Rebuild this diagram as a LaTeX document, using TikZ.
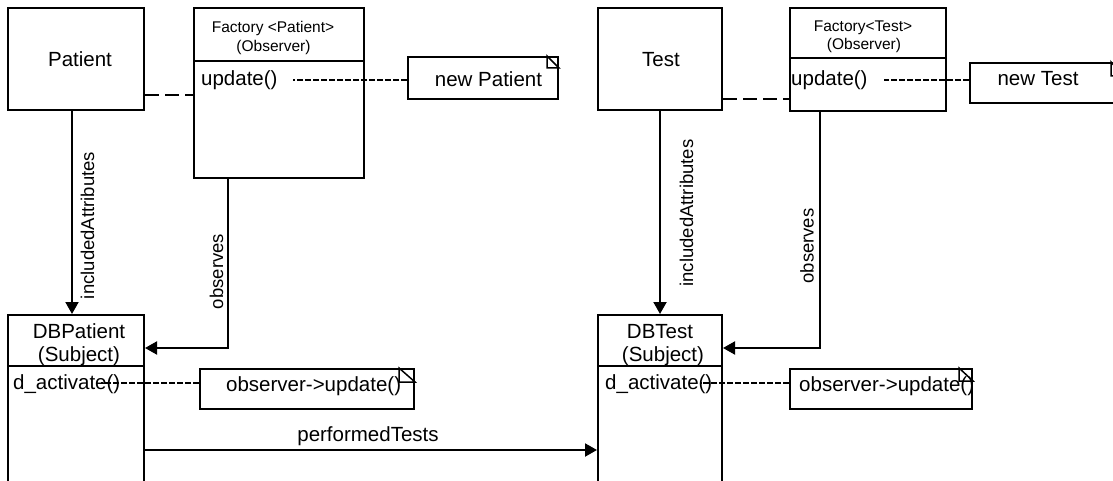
\documentclass[tikz,border=0pt]{standalone}
\usepackage{fontspec}
\setmainfont{Liberation Sans}
\usetikzlibrary{arrows.meta,calc}
\newcommand\notefold[3]{\draw[foldline] ([xshift=-#2pt]#1.north east) -- ([xshift=-#2pt,yshift=-#3pt]#1.north east) -- ([yshift=-#3pt]#1.north east) -- cycle;}
\begin{document}
\begin{tikzpicture}[x=1pt,y=-1pt,
  umlbox/.style={draw, line width=2pt, inner sep=0pt, anchor=north west},
  txt/.style={inner sep=0pt, font=\fontsize{20.5}{24}\selectfont},
  hdr/.style={inner sep=0pt, font=\fontsize{15.5}{18}\selectfont},
  lbl/.style={inner sep=0pt, rotate=90, font=\fontsize{18.5}{22}\selectfont},
  conn/.style={line width=2pt, -{Triangle[length=12pt,width=13pt]}},
  longdash/.style={line width=2pt, dash pattern=on 14pt off 6pt},
  finedash/.style={line width=1.6pt, dash pattern=on 6pt off 2pt},
  foldline/.style={line width=1.5pt}]
\useasboundingbox (0,0) rectangle (1113,481);
\fill[white] (0,0) rectangle (1113,481);
\clip (0,0) rectangle (1113,481);

% boxes
\node[umlbox, minimum width=136pt, minimum height=102pt] (patient) at (7,7) {};
\node[umlbox, minimum width=170pt, minimum height=170pt] (fp) at (193,7) {};
\node[umlbox, minimum width=124pt, minimum height=102pt] (test) at (597,7) {};
\node[umlbox, minimum width=156pt, minimum height=103pt] (ft) at (789,7) {};
\node[umlbox, minimum width=150pt, minimum height=42pt] (np) at (407,56) {};
\node[umlbox, minimum width=152pt, minimum height=40pt] (nt) at (969,62) {};
\node[umlbox, minimum width=136pt, minimum height=190pt] (dbp) at (7,314) {};
\node[umlbox, minimum width=124pt, minimum height=190pt] (dbt) at (597,314) {};
\node[umlbox, minimum width=214pt, minimum height=40pt] (o1) at (199,368) {};
\node[umlbox, minimum width=182pt, minimum height=40pt] (o2) at (789,368) {};

% compartment dividers
\draw[line width=2pt] ([yshift=-54pt]fp.north west) -- ([yshift=-54pt]fp.north east);
\draw[line width=2pt] ([yshift=-51pt]ft.north west) -- ([yshift=-51pt]ft.north east);
\draw[line width=2pt] ([yshift=-52pt]dbp.north west) -- ([yshift=-52pt]dbp.north east);
\draw[line width=2pt] ([yshift=-52pt]dbt.north west) -- ([yshift=-52pt]dbt.north east);

% note folds
\notefold{np}{12}{12}
\notefold{nt}{12}{14}
\notefold{o1}{16}{14}
\notefold{o2}{14}{13}

% texts
\node[txt, anchor=base] (patientT) at (80,67) {Patient};
\node[txt, anchor=base] (testT) at (661,67) {Test};
\node[hdr, anchor=base] (fpT1) at (273,33) {Factory <Patient>};
\node[hdr, anchor=base] (fpT2) at (273.5,52) {(Observer)};
\node[hdr, anchor=base] (ftT1) at (863,32) {Factory<Test>};
\node[hdr, anchor=base] (ftT2) at (864,50) {(Observer)};
\node[txt, anchor=base west] (upd1) at (201,86) {update()};
\node[txt, anchor=base west] (upd2) at (791,86) {update()};
\node[txt, anchor=base] (npT) at (488.5,87) {new Patient};
\node[txt, anchor=base] (ntT) at (1038,86) {new Test};
\node[txt, anchor=base] (dbpT1) at (79,338) {DBPatient};
\node[txt, anchor=base] (dbpT2) at (79,361) {(Subject)};
\node[txt, anchor=base] (dbtT1) at (660,338) {DBTest};
\node[txt, anchor=base] (dbtT2) at (663,361) {(Subject)};
\node[txt, anchor=base west] (dact1) at (13,389) {d\_activate()};
\node[txt, anchor=base west] (dact2) at (605,389) {d\_activate()};
\node[txt, anchor=base west] (o1T) at (226,391) {observer->update()};
\node[txt, anchor=base west] (o2T) at (799,391) {observer->update()};

% connectors
\draw[conn] ([xshift=-4pt]patient.south) -- ([xshift=-4pt]patient.south |- dbp.north);
\draw[conn] ([xshift=-51pt]fp.south) |- ([yshift=-34pt]dbp.north east);
\draw[conn] (test.south) -- (test.south |- dbt.north);
\draw[conn] ([xshift=-48pt]ft.south) |- ([yshift=-34pt]dbt.north east);
\draw[conn] ([yshift=-136pt]dbp.north east) -- ([yshift=-136pt]dbp.north east -| dbt.west)
  node[midway, anchor=base, inner sep=0pt, xshift=-3pt, yshift=9pt, font=\fontsize{20.5}{24}\selectfont] (ptT) {performedTests};

\draw[longdash] ([yshift=-36pt]patient.east) -- ([yshift=-36pt]patient.east -| fp.west);
\draw[longdash] ([yshift=-40pt]test.east) -- ([yshift=-40pt]test.east -| ft.west);
\draw[finedash, shorten >=15pt] ([yshift=-2pt]np.west) -- ([yshift=-2pt]np.west -| upd1.east);
\draw[finedash, shorten >=16pt] ([yshift=3pt]nt.west) -- ([yshift=3pt]nt.west -| upd2.east);
\draw[finedash, shorten >=-20pt] ([yshift=6pt]o1.west) -- ([yshift=6pt]o1.west -| dact1.east);
\draw[finedash, shorten >=-12pt] ([yshift=6pt]o2.west) -- ([yshift=6pt]o2.west -| dact2.east);

% connector labels
\node[lbl] (inc1) at ([xshift=11.5pt, yshift=-114.5pt]patient.south) {includedAttributes};
\node[lbl] (inc2) at ([xshift=26.5pt, yshift=-102pt]test.south) {includedAttributes};
\node[lbl] (obs1) at ([xshift=-62.5pt, yshift=-92.5pt]fp.south) {observes};
\node[lbl] (obs2) at ([xshift=-61pt, yshift=-134pt]ft.south) {observes};
\end{tikzpicture}
\end{document}
